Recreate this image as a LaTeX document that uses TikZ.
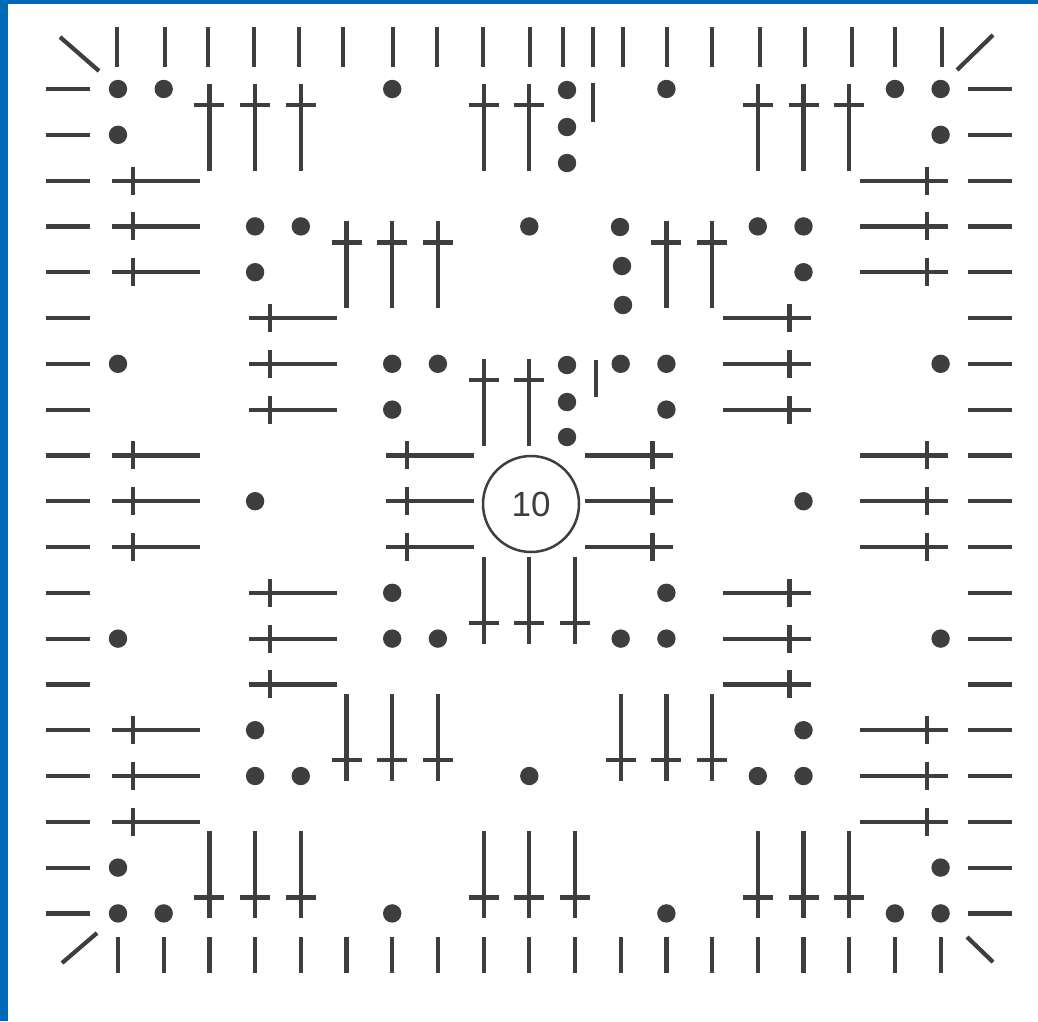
\documentclass[tikz,border=0pt]{standalone}
\usepackage{fontspec}
\setmainfont{Liberation Sans}
\definecolor{ink}{RGB}{62,62,62}
\definecolor{framecol}{RGB}{0,104,180}
\tikzset{
  stroke/.style={draw=ink,line width=4.2pt,line cap=butt},
  stdot/.pic={\fill[ink] (0,0) circle (9.2);},
  stT/.pic={\draw[stroke] (0,-5) -- (0,82); \draw[stroke] (-15,16) -- (15,16);},
  stB/.pic={\draw[stroke] (0,5) -- (0,-82); \draw[stroke] (-15,-16) -- (15,-16);},
  stL/.pic={\draw[stroke] (-6,0) -- (82,0); \draw[stroke] (15,-14) -- (15,14);},
  stR/.pic={\draw[stroke] (7,0) -- (-81,0); \draw[stroke] (-14,-14) -- (-14,14);},
  vtick/.pic={\draw[stroke] (0,-20) -- (0,20);},
  vshort/.pic={\draw[stroke] (0,-18) -- (0,18);},
  htick/.pic={\draw[stroke] (-22,0) -- (22,0);},
}
\newcommand\chst[3]{\pic at ({118+45.7*(#2)},{89+45.8*(#3)}) {#1};}
\begin{document}
\begin{tikzpicture}[x=1pt,y=-1pt]
\useasboundingbox (0,0) rectangle (1038,1021);
\fill[white] (0,0) rectangle (1038,1021);
\fill[framecol] (0,0) rectangle (8,1021);
\fill[framecol] (0,0) rectangle (1038,4);

% ---------- edging round ----------
\foreach \j in {0,...,18} {
  \pic at (67.5,{89+45.8*\j}) {htick};
  \pic at (990,{89+45.8*\j}) {htick};
}
\foreach \x in {117,165,208,254,299,343,393,437,483,530,563,593,623,667,712,760,805,852,895,942}
  \pic at (\x,47) {vtick};
\foreach \i in {0,...,18}
  \pic at ({118+45.7*\i},955) {vshort};
\draw[stroke] (60,37) -- (99,71);
\draw[stroke] (957,70) -- (993,35);
\draw[stroke] (62,963) -- (97,933);
\draw[stroke] (967,937) -- (993,962);

% ---------- outer round ----------
\foreach \a/\b in {0/0,1/0,0/1,17/0,18/0,18/1,0/17,0/18,1/18,18/17,17/18,18/18,6/0,12/0,0/6,0/12,18/6,18/12,6/18,12/18}
  {\chst{stdot}{\a}{\b}}
\foreach \a in {2,3,4,8,9,14,15,16} {\chst{stT}{\a}{0}}
\foreach \a in {2,3,4,8,9,10,14,15,16} {\chst{stB}{\a}{18}}
\foreach \b in {2,3,4,8,9,10,14,15,16} {\chst{stL}{0}{\b}\chst{stR}{18}{\b}}
\foreach \y in {90,127,163} \pic at (567,\y) {stdot};
\draw[stroke] (593,83) -- (593,122);

% ---------- second round ----------
\foreach \a/\b in {3/3,4/3,3/4,14/3,15/3,15/4,3/14,3/15,4/15,15/14,14/15,15/15,9/3,9/15,3/9,15/9}
  {\chst{stdot}{\a}{\b}}
\foreach \a in {5,6,7,12,13} {\chst{stT}{\a}{3}}
\foreach \a in {5,6,7,11,12,13} {\chst{stB}{\a}{15}}
\foreach \b in {5,6,7,11,12,13} {\chst{stL}{3}{\b}\chst{stR}{15}{\b}}
\pic at (620,227) {stdot};
\pic at (622,266) {stdot};
\pic at (623,305) {stdot};

% ---------- first round ----------
\foreach \a/\b in {6/6,7/6,6/7,11/6,12/6,12/7,6/11,6/12,7/12,11/12,12/12,12/11}
  {\chst{stdot}{\a}{\b}}
\foreach \a in {8,9} {\chst{stT}{\a}{6}}
\foreach \a in {8,9,10} {\chst{stB}{\a}{12}}
\foreach \b in {8,9,10} {\chst{stL}{6}{\b}\chst{stR}{12}{\b}}
\foreach \y in {365,402,437} \pic at (567,\y) {stdot};
\draw[stroke] (596,360) -- (596,397);

% ---------- ring ----------
\node[circle,draw=ink,line width=2.5pt,minimum size=96pt,inner sep=0pt,
      text=ink,font=\fontsize{35}{35}\selectfont] (ring) at (531,504) {10};
\end{tikzpicture}
\end{document}
